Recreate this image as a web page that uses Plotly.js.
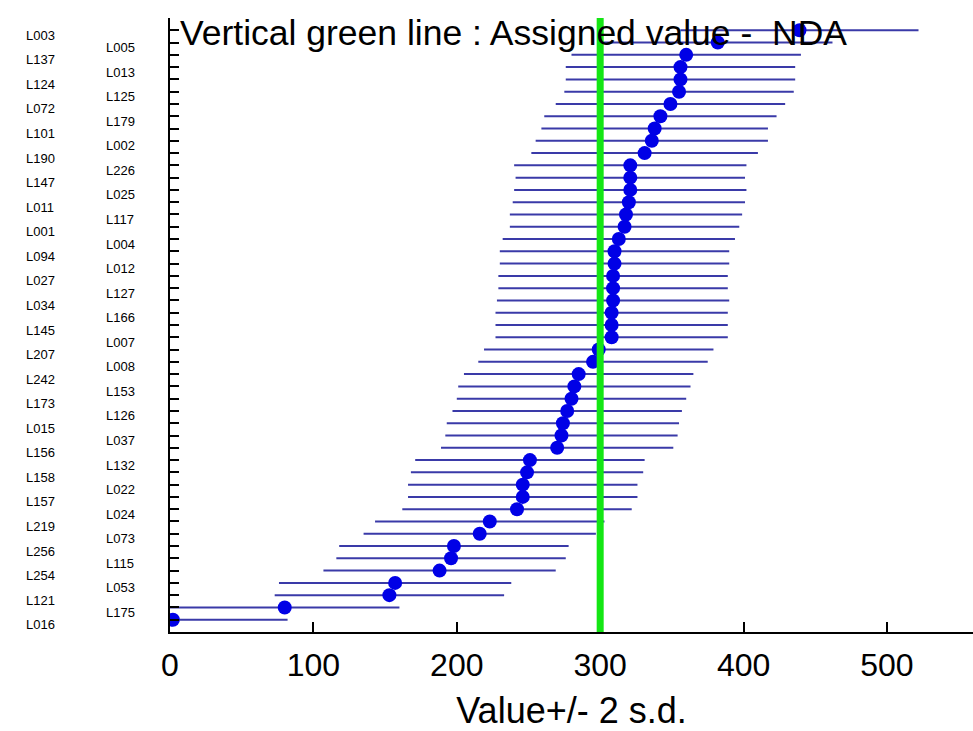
<!DOCTYPE html>
<html><head><meta charset="utf-8">
<script src="https://cdn.plot.ly/plotly-3.0.1.min.js"></script>
<style>html,body{margin:0;padding:0;background:#fff;overflow:hidden}#chart{width:973px;height:731px}</style>
</head><body><div id="chart"></div>
<script>
// Laboratories, top to bottom
const labs = ["L003","L005","L137","L013","L124","L125","L072","L179","L101","L002",
  "L190","L226","L147","L025","L011","L117","L001","L004","L094","L012",
  "L027","L127","L034","L166","L145","L007","L207","L008","L242","L153",
  "L173","L126","L015","L037","L156","L132","L158","L022","L157","L024",
  "L219","L073","L256","L115","L254","L053","L121","L175","L016"];
// Reported values, top to bottom
const vals = [439,382,360,356,356,355,349,342,338,336,
  331,321,321,321,320,318,317,313,310,310,
  309,309,309,308,308,308,299,295,285,282,
  280,277,274,273,270,251,249,246,246,242,
  223,216,198,196,188,157,153,80,2];
// 2 s.d. half-width of each bar
const twoSD = [83,80,80,80,80,80,80,81,79,81,
  79,81,80,81,81,81,80,81,80,80,
  80,80,81,81,81,81,80,80,80,81,
  80,80,81,81,81,80,81,80,80,80,
  80,81,80,80,81,81,80,80,80];
const assignedValue = 300;
const xTicks = [0,100,200,300,400,500];
const noteText = "Vertical green line : Assigned value -  NDA";
const xTitle = "Value+/- 2 s.d.";

const n = labs.length;
const ypos = labs.map((_, i) => n - i);

const trace = {
  type: 'scatter', mode: 'markers',
  x: vals, y: ypos,
  marker: {symbol: 'circle', size: 14, color: '#0000e6'},
  error_x: {type: 'data', array: twoSD, symmetric: true, color: '#3a3aa8', thickness: 2, width: 0},
  hoverinfo: 'x+text', text: labs
};

const annotations = labs.map((t, i) => ({
  text: t, xref: 'paper', x: 0, xanchor: 'left', xshift: (i % 2 === 0) ? -146 : -66,
  yref: 'y', y: ypos[i], yanchor: 'middle', yshift: -5, showarrow: false,
  font: {family: 'Liberation Sans, Arial, sans-serif', size: 13, color: '#000'}
}));
annotations.push({
  text: noteText, xref: 'paper', x: 0, xanchor: 'left', xshift: 8,
  yref: 'paper', y: 1, yanchor: 'top', yshift: 7, showarrow: false,
  font: {family: 'Liberation Sans, Arial, sans-serif', size: 35.5, color: '#000'}
});

const layout = {
  width: 973, height: 731,
  margin: {l: 170, r: 0, t: 18, b: 99},
  paper_bgcolor: '#fff', plot_bgcolor: '#fff',
  showlegend: false,
  font: {family: 'Liberation Sans, Arial, sans-serif', color: '#000'},
  xaxis: {
    range: [0, 560], tickmode: 'array', tickvals: xTicks,
    ticks: 'inside', ticklen: 10, tickwidth: 2, tickcolor: '#000',
    showline: true, linecolor: '#000', linewidth: 2, mirror: false,
    showgrid: false, zeroline: false, ticklabelstandoff: 4,
    tickfont: {size: 32, color: '#000'},
    title: {text: xTitle, font: {size: 36, color: '#000'}, standoff: 18}
  },
  yaxis: {
    range: [0, 50], tickmode: 'linear', tick0: 0, dtick: 1,
    ticks: 'inside', ticklen: 9, tickwidth: 2, tickcolor: '#000',
    showticklabels: false, showline: true, linecolor: '#000', linewidth: 2,
    showgrid: false, zeroline: false
  },
  shapes: [{
    type: 'line', xref: 'x', yref: 'paper', x0: assignedValue, x1: assignedValue, y0: 0, y1: 1,
    line: {color: '#14e614', width: 7}, layer: 'above'
  }],
  annotations: annotations
};

Plotly.newPlot('chart', [trace], layout, {displayModeBar: false, staticPlot: true});
</script>
</body></html>
